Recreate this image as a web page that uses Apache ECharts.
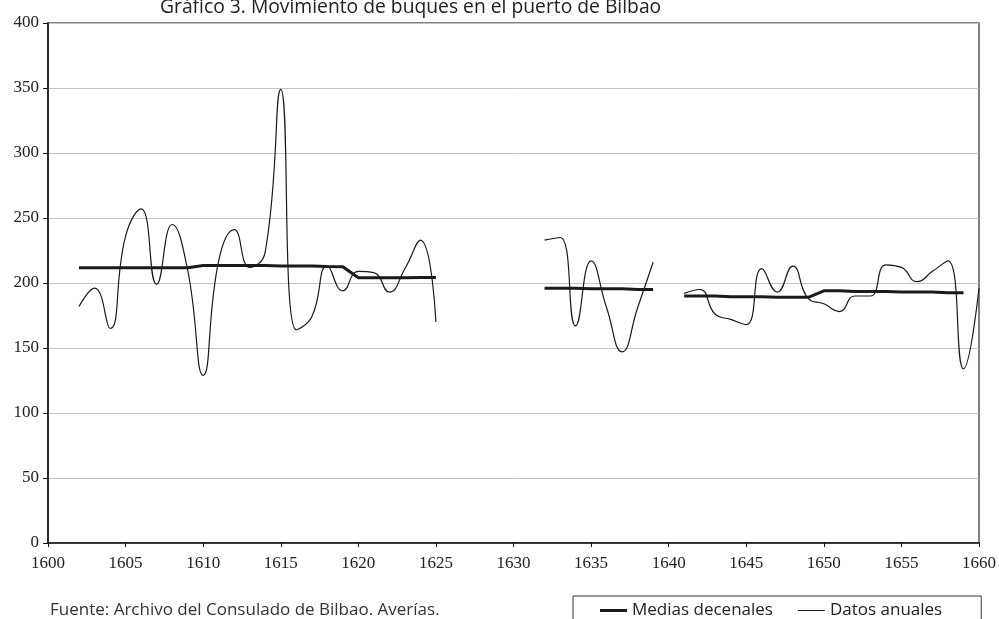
<!DOCTYPE html>
<html lang="es">
<head>
    <meta charset="utf-8">
    <title>Movimiento de buques en el puerto de Bilbao</title>
    <script src="https://cdn.jsdelivr.net/npm/echarts@6/dist/echarts.min.js"></script>
    <style>
        html, body { margin: 0; padding: 0; background: #fff; }
        #chart { width: 999px; height: 619px; }
    </style>
</head>
<body>
<div id="chart"></div>
<script type="text/javascript">

// años (eje x)
var years = [
    1602, 1603, 1604, 1605, 1606, 1607, 1608, 1609, 1610, 1611,
    1612, 1613, 1614, 1615, 1616, 1617, 1618, 1619, 1620, 1621,
    1622, 1623, 1624, 1625, 1626, 1627, 1628, 1629, 1630, 1631,
    1632, 1633, 1634, 1635, 1636, 1637, 1638, 1639, 1640, 1641,
    1642, 1643, 1644, 1645, 1646, 1647, 1648, 1649, 1650, 1651,
    1652, 1653, 1654, 1655, 1656, 1657, 1658, 1659, 1660
];

// datos anuales (null = sin dato)
var datosAnuales = [
    182, 196, 165, 236, 257, 199, 245, 210, 129, 217,
    241, 212, 224, 349, 164, 174, 213, 194, 209, 208,
    193, 211, 233, 170, null, null, null, null, null, null,
    233, 235, 167, 217, 181, 147, 181, 216, null, 192,
    195, 176, 172, 168, 211, 193, 213, 188, 184, 178,
    190, 190, 214, 212, 201, 209, 217, 134, 196
];

// medias decenales
var mediasDecenales = [
    211.7, 211.7, 211.7, 211.7, 211.7, 211.7, 211.7, 211.7, 213.5, 213.5,
    213.5, 213.5, 213.5, 213, 213, 213, 212.7, 212.5, 204, 204,
    204, 204, 204.2, 204.2, null, null, null, null, null, null,
    196, 196, 196, 195.5, 195.5, 195.5, 195, 195, null, 190,
    190, 190, 189.5, 189.5, 189.5, 189, 189, 189, 194, 194,
    193.5, 193.5, 193.5, 193, 193, 193, 192.5, 192.5, null
];

// ticks
var yTicks = { min: 0, max: 400, step: 50 };
var xTicks = { min: 1600, max: 1660, step: 5 };

var titulo = 'Gráfico 3. Movimiento de buques en el puerto de Bilbao';
var fuente = 'Fuente: Archivo del Consulado de Bilbao. Averías.';

function pares(vals) {
    return years.map(function (y, i) { return [y, vals[i]]; });
}

var serif = '"Liberation Serif", "DejaVu Serif", serif';
var sans = '"Open Sans", "Noto Sans", sans-serif';

var chart = echarts.init(document.getElementById('chart'), null, { renderer: 'canvas' });
chart.setOption({
    animation: false,
    backgroundColor: '#fff',
    title: {
        text: titulo,
        left: 160,
        top: -2,
        padding: 0,
        textStyle: { fontFamily: sans, fontSize: 19.3, fontWeight: 'normal', color: '#222' }
    },
    grid: {
        left: 48, right: 16, top: 23, bottom: 76,
        show: true, borderColor: '#555', borderWidth: 1.5
    },
    legend: {
        left: 573,
        top: 596,
        padding: [6, 39, 30, 27],
        itemWidth: 27,
        itemHeight: 14,
        itemGap: 25,
        borderColor: '#333',
        borderWidth: 1,
        textStyle: { fontFamily: sans, fontSize: 17, color: '#222' },
        data: [
            { name: 'Medias decenales', icon: 'path://M0,0H27V3H0Z' },
            { name: 'Datos anuales', icon: 'path://M0,0H27V1H0Z' }
        ]
    },
    xAxis: {
        type: 'value',
        min: xTicks.min, max: xTicks.max, interval: xTicks.step,
        axisLine: { onZero: false, lineStyle: { color: '#111', width: 1.5 } },
        axisTick: { show: true, length: 4, lineStyle: { color: '#111' } },
        splitLine: { show: false },
        axisLabel: {
            margin: 12,
            fontFamily: serif, fontSize: 17, color: '#222',
            formatter: function (v) { return String(v); }
        }
    },
    yAxis: {
        type: 'value',
        min: yTicks.min, max: yTicks.max, interval: yTicks.step,
        axisLine: { show: true, lineStyle: { color: '#111', width: 1.5 } },
        axisTick: { show: true, length: 5, lineStyle: { color: '#111' } },
        splitLine: { show: true, lineStyle: { color: '#c4c4c4', width: 1 } },
        axisLabel: { margin: 9, fontFamily: serif, fontSize: 17, color: '#222' }
    },
    graphic: [{
        type: 'text',
        left: 50,
        top: 602,
        style: { text: fuente, fontFamily: sans, fontSize: 17, fill: '#333' }
    }],
    series: [{
        name: 'Medias decenales',
        type: 'line',
        data: pares(mediasDecenales),
        showSymbol: false,
        symbol: 'none',
        connectNulls: false,
        lineStyle: { color: '#1a1a1a', width: 3 },
        itemStyle: { color: '#1a1a1a' },
        z: 3
    }, {
        name: 'Datos anuales',
        type: 'line',
        data: pares(datosAnuales),
        smooth: 0.5,
        showSymbol: false,
        symbol: 'none',
        connectNulls: false,
        lineStyle: { color: '#1a1a1a', width: 1.2 },
        itemStyle: { color: '#1a1a1a' },
        z: 2
    }]
});

</script>
</body>
</html>
